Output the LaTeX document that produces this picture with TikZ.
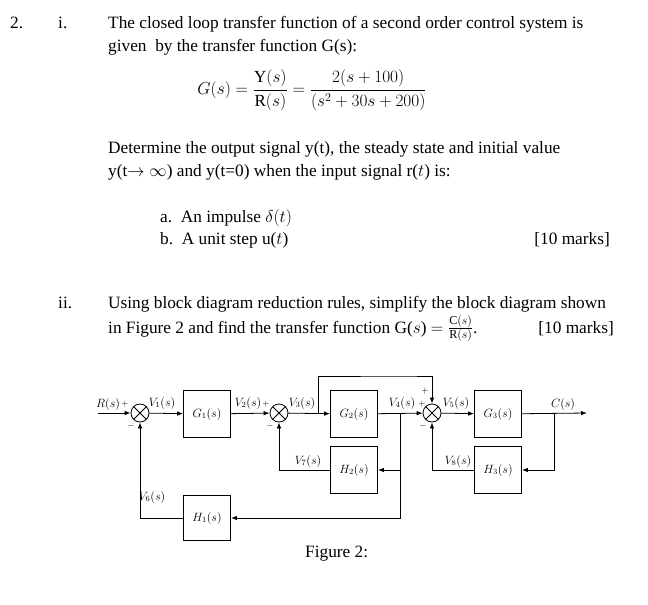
\documentclass[tikz,border=0pt]{standalone}
\usepackage{amsmath}
\usepackage{fontspec}
\setmainfont{Liberation Serif}
\usetikzlibrary{arrows.meta,positioning}

\begin{document}
\begin{tikzpicture}[x=1pt,y=-1pt,
    txt/.style={anchor=base west,inner sep=0,font=\fontsize{17.3}{22}\selectfont},
    block/.style={draw,thick,minimum width=47pt,minimum height=47pt,font=\itshape\fontsize{12}{14}\selectfont},
    sum/.style={circle,draw,thick,minimum size=18pt,inner sep=0,
        path picture={\draw[thick] (path picture bounding box.north west)--(path picture bounding box.south east)
            (path picture bounding box.north east)--(path picture bounding box.south west);}},
    lbl/.style={font=\itshape\fontsize{12}{14}\selectfont,inner sep=1pt},
    sgn/.style={font=\small,inner sep=0},
    arrow/.style={-{Latex[length=6pt]},thick},
    line/.style={thick}
]
\useasboundingbox (0,0) rectangle (648,605);

% Question text
\node[txt] (q2) at (10,28) {2.};
\node[txt] (qi) at (58,28) {i.};
\node[txt] (t1) at (108,28) {The closed loop transfer function of a second order control system is};
\node[txt] (t2) at (108,51) {given\ \ by the transfer function G(s):};
\node[inner sep=0,font=\fontsize{17}{20}\selectfont] (eq) at (312,90)
    {$G(s)=\dfrac{\mathrm{Y}(s)}{\mathrm{R}(s)}=\dfrac{2(s+100)}{(s^2+30s+200)}$};
\node[txt] (t3) at (108,153) {Determine the output signal y(t), the steady state and initial value};
\node[txt] (t4) at (108,176) {y(t$\rightarrow\infty$) and y(t=0) when the input signal r($t$) is:};
\node[txt] (ta) at (160,222) {a.\ \ An impulse $\delta(t)$};
\node[txt] (tb) at (160,244) {b.\ \ A unit step u($t$)};
\node[txt,anchor=base east] (m1) at (610,244) {[10 marks]};
\node[txt] (qii) at (58,308) {ii.};
\node[txt] (t5) at (108,308) {Using block diagram reduction rules, simplify the block diagram shown};
\node[txt] (t6) at (108,333) {in Figure 2 and find the transfer function G($s$) $=\frac{\mathrm{C}(s)}{\mathrm{R}(s)}$.};
\node[txt,anchor=base east] (m2) at (614,333) {[10 marks]};

% Block diagram
\node[sum] (s1) at (140,413) {};
\node[block] (g1) at (207,414) {$G_1(s)$};
\node[sum] (s2) at (279,413) {};
\node[block] (g2) at (354,414) {$G_2(s)$};
\node[sum] (s3) at (432,413) {};
\node[block] (g3) at (498,414) {$G_3(s)$};
\node[block] (h2) at (354,470) {$H_2(s)$};
\node[block] (h3) at (498,470) {$H_3(s)$};
\node[block,minimum height=45pt] (h1) at (207,518) {$H_1(s)$};

\coordinate (in) at (98,413);
\coordinate (out) at (587,413);
\coordinate (b3) at (318,413);
\coordinate (b4) at (400,413);
\coordinate (bc) at (554,413);

% Forward path
\draw[arrow] (in) -- (s1);
\draw[arrow] (s1) -- (g1);
\draw[arrow] (g1) -- (s2);
\draw[arrow] (s2) -- (g2);
\draw[arrow] (g2) -- (s3);
\draw[arrow] (s3) -- (g3);
\draw[arrow] (g3) -- (out);
\draw[arrow] (b3) |- (402,376) -| (s3);

% Feedback paths
\draw[arrow] (b4) |- (h2);
\draw[arrow] (b4) |- (h1);
\draw[arrow] (bc) |- (h3);
\draw[arrow] (h2) -| (s2);
\draw[arrow] (h3) -| (s3);
\draw[arrow] (h1) -| (s1);

% Signal labels
\node[lbl] (lr) at (108,404) {$R(s)$};
\node[lbl] (l1) at (162,403) {$V_1(s)$};
\node[lbl] (l2) at (248,403) {$V_2(s)$};
\node[lbl] (l3) at (302,403) {$V_3(s)$};
\node[lbl] (l4) at (402,403) {$V_4(s)$};
\node[lbl] (l5) at (456,403) {$V_5(s)$};
\node[lbl] (lc) at (563,404) {$C(s)$};
\node[lbl] (l7) at (308,461) {$V_7(s)$};
\node[lbl] (l8) at (458,461) {$V_8(s)$};
\node[lbl] (l6) at (152,497) {$V_6(s)$};

% Signs
\node[sgn] (p1) at (125,404) {$+$};
\node[sgn] (n1) at (131,426) {$-$};
\node[sgn] (p2) at (266,404) {$+$};
\node[sgn] (n2) at (270,426) {$-$};
\node[sgn] (p3) at (422,404) {$+$};
\node[sgn] (p4) at (425,391) {$+$};
\node[sgn] (n3) at (423,426) {$-$};

\node[txt] (fig) at (305,557) {Figure 2:};
\end{tikzpicture}
\end{document}
